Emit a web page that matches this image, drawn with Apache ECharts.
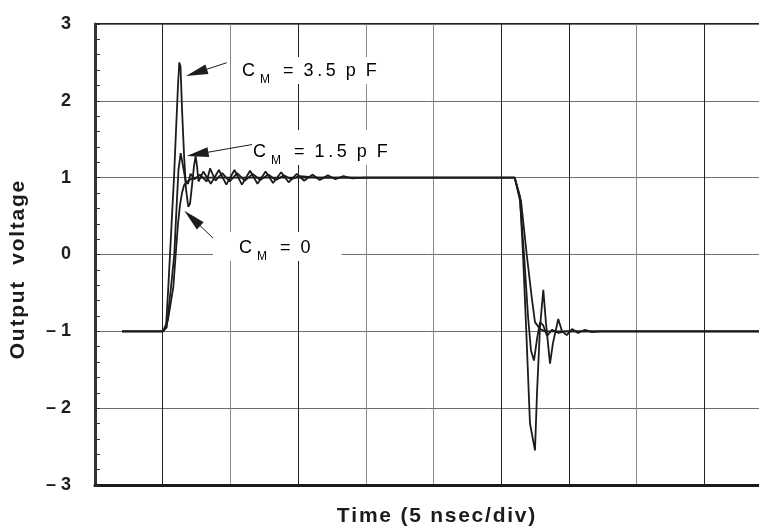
<!DOCTYPE html>
<html>
<head>
<meta charset="utf-8">
<script src="https://cdn.jsdelivr.net/npm/echarts@6/dist/echarts.min.js"></script>
<style>
html,body{margin:0;padding:0;background:#fff;}
#c{width:759px;height:529px;}
</style>
</head>
<body>
<div id="c"></div>
<script>
// ---- data (time in divisions, voltage in volts) ----
const yTicks = [-3, -2, -1, 0, 1, 2, 3];
const xTitle = 'T\u200Ai\u200Am\u200Ae\u200A \u200A(\u200A5\u200A \u200An\u200As\u200Ae\u200Ac\u200A/\u200Ad\u200Ai\u200Av\u200A)';
const yTitle = 'O\u200Au\u200At\u200Ap\u200Au\u200At\u200A \u200A \u200Av\u200Ao\u200Al\u200At\u200Aa\u200Ag\u200Ae';

const t35 = [0.40,1.004,1.049,1.083,1.108,1.137,1.167,1.196,1.226,1.245,1.263,1.285,1.315,1.344,1.378,1.403,1.433,1.462,1.487,1.507,1.529,1.60,1.71,1.83,1.94,2.06,2.17,2.29,2.40,2.52,2.63,2.75,2.86,2.98,3.09,3.21,3.32,3.44,3.55,3.67,3.80,4.0,6.20,6.229,6.278,6.322,6.366,6.425,6.499,6.529,6.573,6.622,6.662,6.721,6.765,6.843,6.898,6.968,7.046,7.134,7.238,7.341,7.459,10.0];
const v35 = [-1,-1,-0.95,-0.42,0.0,0.5,1.0,1.6,2.2,2.5,2.45,1.9,1.3,0.85,0.62,0.66,0.9,1.15,1.28,1.15,0.95,1.08,0.92,1.10,0.91,1.10,0.91,1.09,0.92,1.08,0.93,1.07,0.94,1.05,0.96,1.04,0.97,1.03,0.98,1.02,0.99,1.0,1.0,0.98,0.75,0.0,-0.9,-2.2,-2.55,-1.8,-0.95,-0.46,-0.9,-1.42,-1.15,-0.84,-1.0,-1.05,-0.97,-1.02,-0.98,-1.01,-1.0,-1.0];

const t15 = [0.40,1.004,1.059,1.123,1.171,1.204,1.233,1.266,1.300,1.340,1.374,1.411,1.47,1.55,1.65,1.70,1.78,1.88,1.99,2.10,2.21,2.33,2.44,2.56,2.67,2.79,2.90,3.02,3.3,6.20,6.229,6.278,6.337,6.396,6.440,6.484,6.529,6.573,6.62,6.677,6.750,6.843,6.95,10.0];
const v15 = [-1,-1,-0.95,-0.42,0.0,0.6,1.1,1.32,1.15,0.95,0.92,1.05,0.98,1.04,0.95,1.12,0.96,1.06,0.95,1.06,0.96,1.05,0.97,1.04,0.97,1.03,0.98,1.02,1.0,1.0,0.99,0.7,0.0,-0.8,-1.25,-1.38,-1.1,-0.88,-0.92,-1.06,-0.98,-1.02,-1.0,-1.0];

const t0 = [0.40,1.004,1.078,1.157,1.192,1.226,1.256,1.285,1.315,1.359,1.418,1.477,6.20,6.229,6.292,6.377,6.450,6.499,6.573,6.647,10.0];
const v0 = [-1,-1,-0.85,-0.42,0.0,0.4,0.65,0.8,0.9,0.95,0.98,1.0,1.0,0.99,0.7,0.0,-0.55,-0.88,-0.97,-1.0,-1.0];

// annotation arrows: [tail x, tail y, head x, head y] in data units
const arrow35 = [1.945, 2.496, 1.499, 2.367];
const arrow15 = [2.338, 1.434, 1.514, 1.307];
const arrow0  = [1.773, 0.189, 1.437, 0.471];
const labels = ['3\u2009.\u20095  p  F', '1\u2009.\u20095  p  F', '0'];

const zip = (a, b) => a.map((x, i) => [x, b[i]]);
const arrowData = a => [{coord: [a[0], a[1]]}, {coord: [a[2], a[3]]}];

const FONT = 'Liberation Sans, Arial, sans-serif';
const INK = '#1c1c1c';

const chart = echarts.init(document.getElementById('c'), null, {renderer: 'canvas'});

const lineSeries = (name, data, extra) => Object.assign({
  name, type: 'line', data, showSymbol: false, symbol: 'none',
  lineStyle: {color: INK, width: 1.8}, animation: false, z: 3
}, extra || {});

const richStyle = {
  c: {fontSize: 18, lineHeight: 22, fontFamily: FONT, color: INK, verticalAlign: 'top'},
  m: {fontSize: 12, lineHeight: 14, fontFamily: FONT, color: INK, verticalAlign: 'top', padding: [12, 3, 0, 5]},
  t: {fontSize: 18, lineHeight: 22, fontFamily: FONT, color: INK, verticalAlign: 'top'}
};
const labelText = s => '{c|C}{m|M}{t|  =  ' + s + '}';

chart.setOption({
  animation: false,
  backgroundColor: '#fff',
  grid: {left: 95, top: 24, width: 677, height: 461, outerBoundsMode: 'none', containLabel: false,
         show: true, borderColor: '#222', borderWidth: 2, backgroundColor: 'transparent'},
  xAxis: {
    type: 'value', min: 0, max: 10, interval: 1,
    axisLine: {show: true, onZero: false, lineStyle: {color: '#1a1a1a', width: 3}},
    axisTick: {show: false}, axisLabel: {show: false},
    splitLine: {show: true, lineStyle: {width: 1, color: ['#222','#222','#8a8a8a','#222','#8a8a8a','#8a8a8a','#222','#222','#8a8a8a','#222','#222']}}
  },
  yAxis: {
    type: 'value', min: yTicks[0], max: yTicks[yTicks.length - 1], interval: 1,
    axisLine: {show: true, onZero: false, lineStyle: {color: '#333', width: 3}},
    axisTick: {show: true, inside: true, length: 5, lineStyle: {color: '#333'}},
    minorTick: {show: true, splitNumber: 5, length: 5, lineStyle: {color: '#333'}},
    axisLabel: {
      margin: 24, fontFamily: FONT, fontWeight: 'bold', fontSize: 18, color: INK,
      formatter: v => v < 0 ? '\u2013 ' + (-v) : String(v)
    },
    splitLine: {show: true, lineStyle: {width: 1, color: '#6e6e6e'}}
  },
  series: [
    lineSeries('CM=0', zip(t0, v0)),
    lineSeries('CM=1.5pF', zip(t15, v15)),
    lineSeries('CM=3.5pF', zip(t35, v35), {
      markLine: {
        silent: true, animation: false,
        symbol: ['none', 'triangle'], symbolSize: [10, 22],
        lineStyle: {color: INK, width: 1, type: 'solid'},
        itemStyle: {color: INK},
        label: {show: false},
        emphasis: {disabled: true},
        data: [arrowData(arrow35), arrowData(arrow15), arrowData(arrow0)]
      }
    })
  ],
  graphic: [
    {type: 'text', left: 236, top: 57, z: 100, style: {text: labelText(labels[0]), rich: richStyle, backgroundColor: '#fff', padding: [5, 6, 0, 6]}},
    {type: 'text', left: 252, top: 130, z: 100, style: {text: labelText(labels[1]), rich: richStyle, backgroundColor: '#fff', padding: [13, 4, 0, 1]}},
    {type: 'text', left: 213, top: 232, z: 100, style: {text: labelText(labels[2]), rich: richStyle, backgroundColor: '#fff', padding: [7, 31, 0, 26]}},
    {type: 'text', x: 436, y: 516, z: 100, style: {text: xTitle, fontFamily: FONT, fontWeight: 'bold', fontSize: 21, fill: INK, align: 'center', verticalAlign: 'middle'}},
    {type: 'text', x: 18, y: 270, rotation: Math.PI / 2, z: 100, style: {text: yTitle, fontFamily: FONT, fontWeight: 'bold', fontSize: 21, fill: INK, align: 'center', verticalAlign: 'middle'}}
  ]
});
</script>
</body>
</html>
